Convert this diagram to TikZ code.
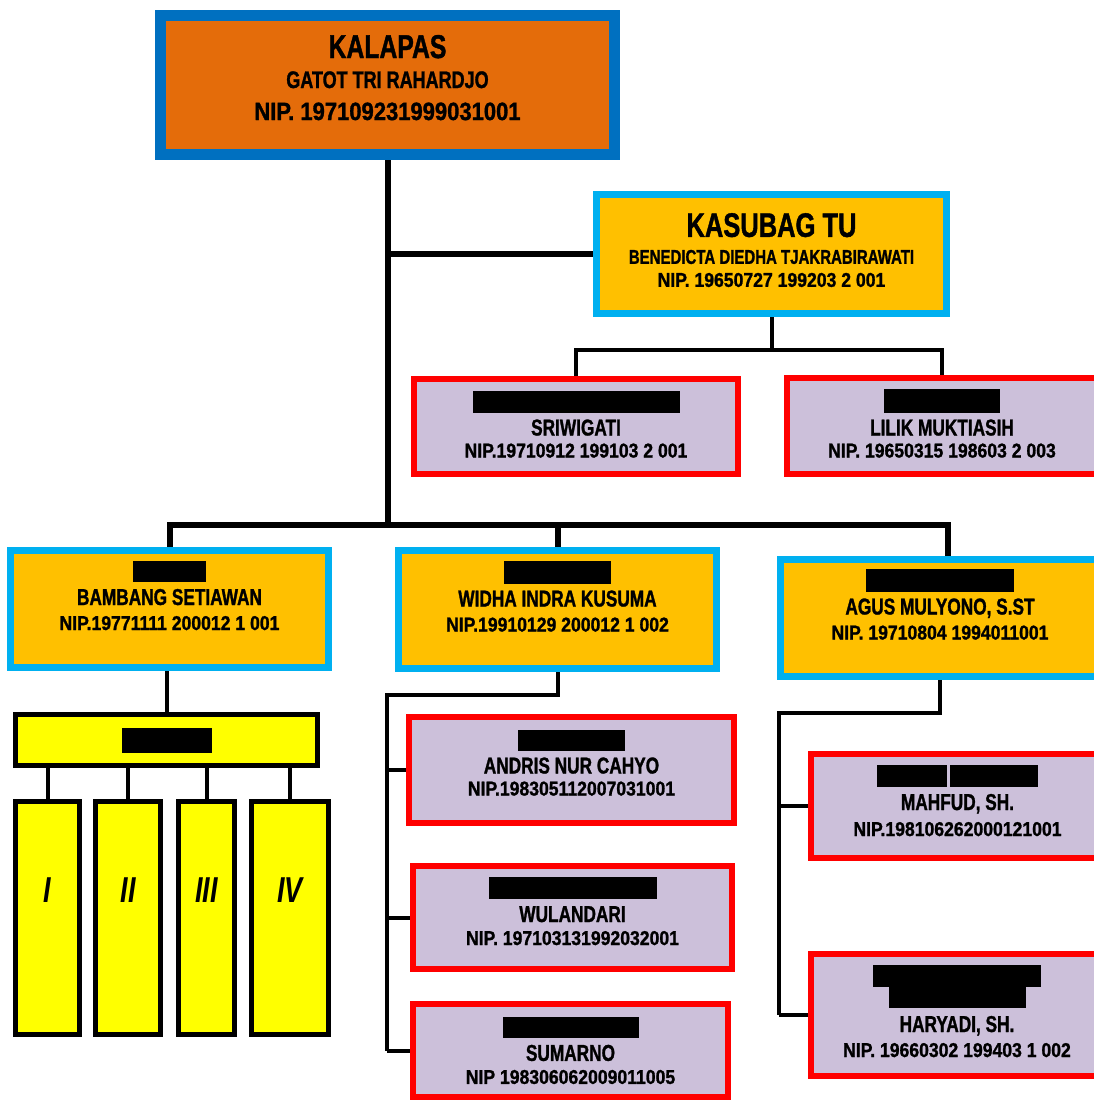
\documentclass[tikz,border=0pt]{standalone}
\usepackage{fontspec}
\setmainfont{Liberation Sans}[FakeStretch=0.75, BoldFeatures={FakeBold=1.2}]
\newfontfamily\nipfnt{Liberation Sans}[FakeStretch=0.88, BoldFeatures={FakeBold=1.2}]
\usetikzlibrary{backgrounds}
\definecolor{headorange}{HTML}{E46C0A}
\definecolor{headblue}{HTML}{0070C0}
\definecolor{unitgold}{HTML}{FFC000}
\definecolor{unitcyan}{HTML}{00B0F0}
\definecolor{staffred}{HTML}{FF0000}
\definecolor{stafflilac}{HTML}{CCC0DA}
\definecolor{reguyellow}{HTML}{FFFF00}
\newcommand\fsz[2]{\fontsize{#1}{#2}\selectfont}
\newcommand\blackout[2]{\rule{#1pt}{#2pt}}
\newcommand\nipline[1]{{\nipfnt\bfseries\fsz{20}{23}#1}}
\begin{document}
\begin{tikzpicture}[x=1pt, y=-1pt,
  box/.style = {draw, inner sep=0pt, align=center, font=\bfseries},
  headbox/.style = {box, fill=headorange, draw=headblue, line width=11pt},
  unitbox/.style = {box, fill=unitgold, draw=unitcyan, line width=7pt, font=\fsz{23}{23}\bfseries, text depth=27pt},
  staffbox/.style = {box, fill=stafflilac, draw=staffred, line width=6pt, font=\fsz{23}{23}\bfseries},
  regubox/.style = {box, fill=reguyellow, draw=black, line width=5pt},
  mainline/.style = {line width=6pt},
  subline/.style = {line width=4pt}]
\useasboundingbox (0,0) rectangle (1094,1101);
% pimpinan
\node[headbox, minimum width=454, minimum height=139, text depth=15pt, font=\fsz{33}{30}\bfseries] (kalapas) at (387.5,85)
  {KALAPAS\\ {\fsz{24}{30}GATOT TRI RAHARDJO}\\[2pt] {\nipfnt\bfseries\fsz{25}{30}NIP. 197109231999031001}};
\node[headbox, draw=unitcyan, fill=unitgold, line width=7pt, minimum width=350, minimum height=119, text depth=8pt, font=\fsz{34}{27}\bfseries] (kasubag) at (771.5,254)
  {KASUBAG TU\\ {\fsz{20}{27}BENEDICTA DIEDHA TJAKRABIRAWATI}\\[-4pt] \nipline{NIP. 19650727 199203 2 001}};
% urusan tata usaha
\node[staffbox, minimum width=324, minimum height=95, text depth=5pt] (sriwigati) at (576,426.5)
  {\blackout{207}{22}\\ SRIWIGATI\\[-1pt] \nipline{NIP.19710912 199103 2 001}};
\node[staffbox, minimum width=310, minimum height=96, text depth=6pt] (lilik) at (942,426)
  {\blackout{116}{24}\\ LILIK MUKTIASIH\\[-1pt] \nipline{NIP. 19650315 198603 2 003}};
% seksi
\node[unitbox, minimum width=318, minimum height=117] (bambang) at (169.5,609)
  {\blackout{73}{21}\\ BAMBANG SETIAWAN\\[2pt] \nipline{NIP.19771111 200012 1 001}};
\node[unitbox, minimum width=318, minimum height=118] (widha) at (557.5,609.5)
  {\blackout{107}{23}\\ WIDHA INDRA KUSUMA\\[2pt] \nipline{NIP.19910129 200012 1 002}};
\node[unitbox, minimum width=319, minimum height=117, text depth=28pt] (agus) at (940,618)
  {\blackout{148}{23}\\ AGUS MULYONO, S.ST\\[2pt] \nipline{NIP. 19710804 1994011001}};
% regu
\node[regubox, minimum width=302, minimum height=51] (rupam) at (166.5,740) {\blackout{90}{25}};
\foreach \i/\cx/\colw/\lbl in {1/47.5/64/I, 2/128/65/II, 3/206.5/56/III, 4/290/77/IV}
  \node[regubox, minimum width=\colw, minimum height=233, text depth=56pt, font=\fsz{36}{36}\bfseries\itshape] (regu\i) at (\cx,918) {\lbl};
% subseksi
\node[staffbox, minimum width=325, minimum height=106, text depth=15pt] (andris) at (571.5,770)
  {\blackout{107}{21}\\ ANDRIS NUR CAHYO\\[-1pt] \nipline{NIP.198305112007031001}};
\node[staffbox, minimum width=319, minimum height=103, text depth=13pt] (wulandari) at (572.5,917.5)
  {\blackout{168}{22}\\ WULANDARI\\ \nipline{NIP. 197103131992032001}};
\node[staffbox, minimum width=315, minimum height=93] (sumarno) at (570.5,1050.5)
  {\blackout{136}{21}\\ SUMARNO\\ \nipline{NIP 198306062009011005}};
\node[staffbox, minimum width=293, minimum height=104, text depth=11pt] (mahfud) at (957.5,806)
  {\blackout{70}{22}\hspace{3pt}\blackout{88}{22}\\ MAHFUD, SH.\\[3pt] \nipline{NIP.198106262000121001}};
\node[staffbox, minimum width=293, minimum height=122, text depth=8pt] (haryadi) at (957,1015)
  {\blackout{168}{22}\\[-2pt] \blackout{137}{21}\\[1pt] HARYADI, SH.\\[2pt] \nipline{NIP. 19660302 199403 1 002}};
% garis
\coordinate (trunk) at (387.5,525);
\coordinate (tubar) at (771.5,350);
\coordinate (spine1) at (387,695);
\coordinate (spine2) at (779,713);
\begin{scope}[on background layer]
\draw[mainline] (kalapas.south) -- (trunk);
\draw[mainline] (kasubag.west) -- (kasubag.west -| trunk);
\draw[mainline] (bambang.north) |- (trunk) -| ([xshift=8pt]agus.north);
\draw[mainline] (widha.north) -- (widha.north |- trunk);
\draw[subline] (kasubag.south) -- (tubar);
\draw[subline] (sriwigati.north) |- (tubar) -| (lilik.north);
\draw[subline] (rupam.north) -- (rupam.north |- bambang.south);
\foreach \i in {1,...,4}
  \draw[subline] (regu\i.north) -- (regu\i.north |- rupam.south);
\draw[subline] (widha.south) |- (spine1) -- (spine1 |- sumarno.west);
\foreach \nm in {andris, wulandari, sumarno}
  \draw[subline] (\nm.west) -- (\nm.west -| spine1);
\draw[subline] (agus.south) |- (spine2) -- (spine2 |- haryadi.west);
\foreach \nm in {mahfud, haryadi}
  \draw[subline] (\nm.west) -- (\nm.west -| spine2);
\end{scope}
\end{tikzpicture}
\end{document}
